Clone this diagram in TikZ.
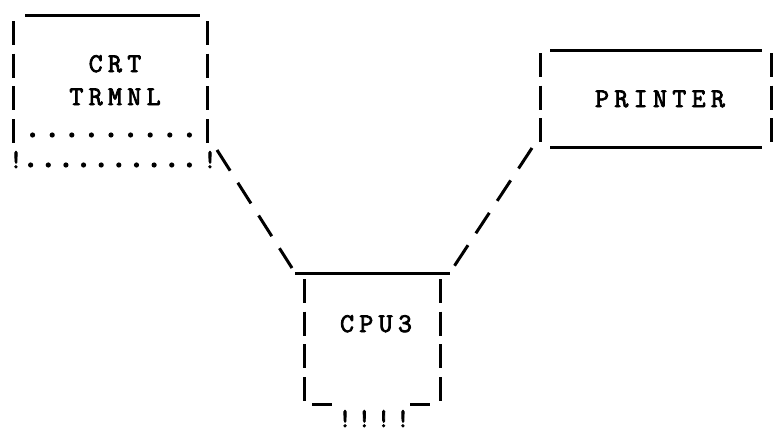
\documentclass[tikz,border=0pt]{standalone}
\usepackage{fontspec}
\newfontfamily\ttyfont[LetterSpace=20, FakeBold=3]{Latin Modern Mono}

\begin{document}
\begin{tikzpicture}[x=1pt, y=-1pt,
    every node/.style={inner sep=0pt, outer sep=0pt},
    frame/.style={rectangle, draw=none},
    tty/.style={font={\ttyfont\bfseries\fontsize{27}{33}\selectfont}, align=center},
    rule/.style={line width=3pt},
    side/.style={line width=3pt, dash pattern=on 24pt off 8.7pt},
    link/.style={line width=3pt, dash pattern=on 24.5pt off 14.3pt}
]
    \useasboundingbox (0,0) rectangle (777,434);

    % frames of the three boxes
    \node[frame, minimum width=194pt, minimum height=153pt] (crt) at (110,91.5) {};
    \node[frame, minimum width=231pt, minimum height=97pt] (printer) at (655.5,98.5) {};
    \node[frame, minimum width=136pt, minimum height=131pt] (cpu) at (372,338.5) {};

    \node[tty, anchor=base] (crttext) at (115,105) {CRT\\TRMNL};
    \node[tty, anchor=base] (printertext) at (660,107) {PRINTER};
    \node[tty, anchor=base] (cputext) at (376,332) {CPU3};

    % terminal
    \draw[rule] ([xshift=12pt]crt.north west) -- ([xshift=-7pt]crt.north east);
    \draw[side] ([yshift=-6pt]crt.north west) -- ([yshift=25pt]crt.south west);
    \draw[side] ([yshift=-6pt]crt.north east) -- ([yshift=25pt]crt.south east);
    \foreach \i in {1,...,9}
        \fill (13+19.6*\i,135) circle (2.6);
    \foreach \i in {1,...,10}
        \fill (13+17.64*\i,165) circle (2.6);
    \node[tty, anchor=base] (crtbangl) at ([xshift=3pt]crt.south west) {!};
    \node[tty, anchor=base] (crtbangr) at ([xshift=3pt]crt.south east) {!};

    % printer
    \draw[rule] ([xshift=10pt]printer.north west) -- ([xshift=-9pt]printer.north east);
    \draw[rule] ([xshift=10pt]printer.south west) -- ([xshift=-9pt]printer.south east);
    \draw[side] ([yshift=-3pt]printer.north west) -- ([yshift=5pt]printer.south west);
    \draw[side] ([yshift=-3pt]printer.north east) -- ([yshift=5pt]printer.south east);

    % cpu
    \draw[rule] ([xshift=-9pt]cpu.north west) -- ([xshift=10pt]cpu.north east);
    \draw[side] ([yshift=-6pt]cpu.north west) -- (cpu.south west);
    \draw[side] ([yshift=-6pt]cpu.north east) -- (cpu.south east);
    \draw[rule] ([xshift=8pt]cpu.south west) -- ([xshift=28pt]cpu.south west);
    \draw[rule] ([xshift=-30pt]cpu.south east) -- ([xshift=-10pt]cpu.south east);
    \node[tty, anchor=base] (cpubangs) at ([shift={(2pt,-23pt)}]cpu.south) {!!!!};

    % links
    \draw[link] ([shift={(10pt,18pt)}]crt.south east) -- ([shift={(-12pt,5pt)}]cpu.north west);
    \draw[link] ([shift={(-8pt,-1pt)}]printer.south west) -- ([shift={(13pt,5pt)}]cpu.north east);
\end{tikzpicture}
\end{document}
